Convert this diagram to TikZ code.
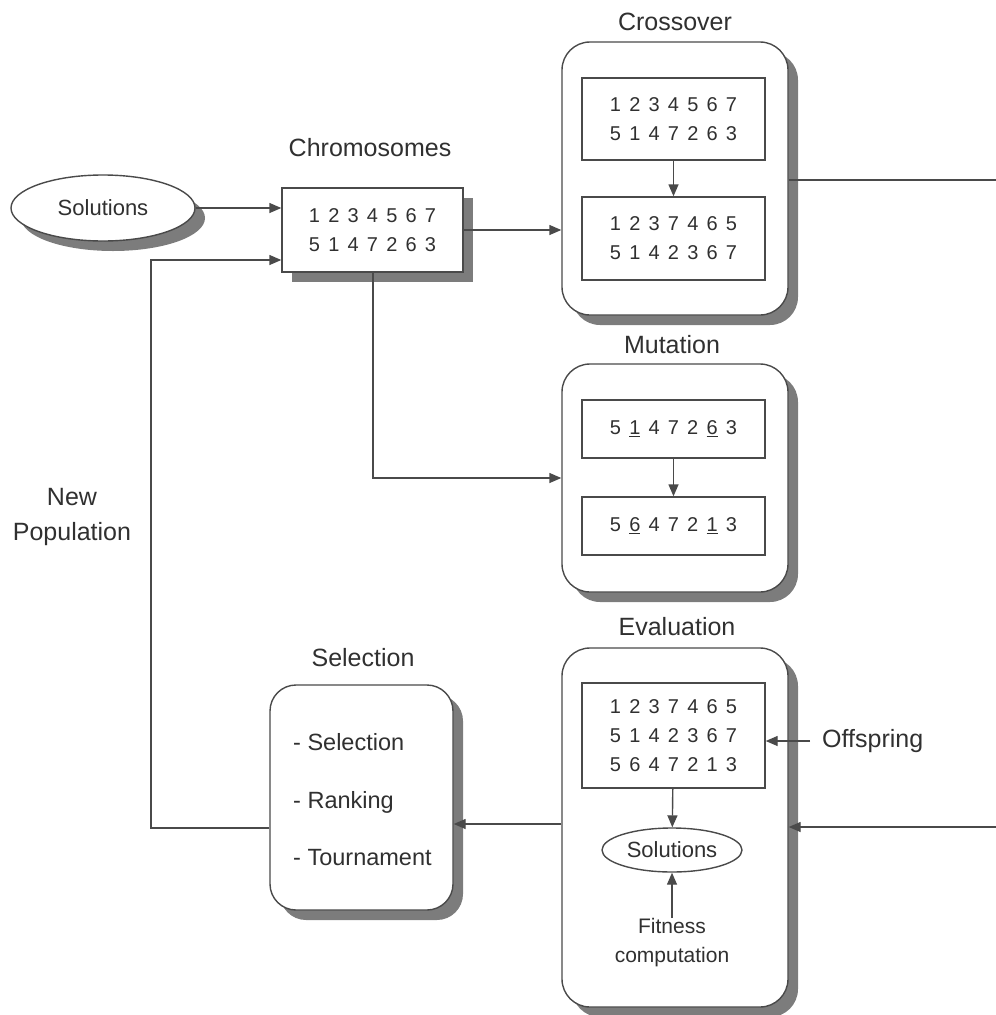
\documentclass[tikz,border=0pt]{standalone}
\usepackage{fontspec}
\setmainfont{Liberation Sans}
\usetikzlibrary{arrows.meta,shapes.geometric,shadows,calc}
\definecolor{linegray}{HTML}{4A4A4A}
\definecolor{textgray}{HTML}{303030}
\definecolor{shadowgray}{HTML}{7C7C7C}
% one row of seven digits on an even pitch
\newcommand\drow[7]{#1\kern8.2pt#2\kern8.2pt#3\kern8.2pt#4\kern8.2pt#5\kern8.2pt#6\kern8.2pt#7}
\newcommand\dfont{\fontsize{20}{29}\selectfont}
\begin{document}
\begin{tikzpicture}[x=1pt,y=-1pt,
  every node/.style={text=textgray, inner sep=0pt},
  lbl/.style={font=\fontsize{25}{29}\selectfont},
  digits/.style={font=\dfont, align=center},
  shd/.style={drop shadow={shadow xshift=10pt, shadow yshift=-10pt, fill=shadowgray, opacity=1}},
  outerbox/.style={shd, draw=linegray, line width=1.4pt, fill=white, rounded corners=28pt},
  innerbox/.style={draw=linegray, line width=1.4pt, fill=white},
  oval/.style={ellipse, draw=linegray, line width=1.4pt, fill=white, font=\fontsize{22}{26}\selectfont},
  conn/.style={draw=linegray, line width=1.4pt},
  arr/.style={conn, -{Triangle[length=12pt,width=10pt]}}
]
\useasboundingbox (0,0) rectangle (996,1015);

% Initial solutions and the chromosome pool
\node[oval, shd, minimum width=184pt, minimum height=66pt] (sol1) at (103,208) {Solutions};
\node[innerbox, shd, minimum width=181pt, minimum height=84pt, digits] (chrom) at (372.5,230)
  {\drow1234567\\\drow5147263};
\node[lbl] (chromlbl) at (370,148) {Chromosomes};

% Crossover
\node[outerbox, minimum width=226pt, minimum height=273pt] (cross) at (675,178.5) {};
\node[lbl] (crosslbl) at (675,22) {Crossover};
\node[innerbox, minimum width=183pt, minimum height=82pt, digits] (cx1) at (673.5,119)
  {\drow1234567\\\drow5147263};
\node[innerbox, minimum width=183pt, minimum height=83pt, digits] (cx2) at (673.5,238.5)
  {\drow1237465\\\drow5142367};

% Mutation
\node[outerbox, minimum width=226pt, minimum height=228pt] (mut) at (675,478) {};
\node[lbl] (mutlbl) at (672,345) {Mutation};
\node[innerbox, minimum width=183pt, minimum height=58pt, digits] (mu1) at (673.5,429)
  {\drow5{\underline{1}}472{\underline{6}}3};
\node[innerbox, minimum width=183pt, minimum height=58pt, digits] (mu2) at (673.5,526)
  {\drow5{\underline{6}}472{\underline{1}}3};

% Evaluation
\node[outerbox, minimum width=226pt, minimum height=359pt] (eval) at (675,827.5) {};
\node[lbl] (evallbl) at (677,627) {Evaluation};
\node[innerbox, minimum width=183pt, minimum height=105pt, digits] (ev1) at (673.5,735.5)
  {\drow1237465\\\drow5142367\\\drow5647213};
\node[oval, minimum width=140pt, minimum height=44pt] (sol2) at (672,850) {Solutions};
\node[align=center, font=\fontsize{21}{29}\selectfont, anchor=north] (fit) at (672,918)
  {Fitness\\computation};
\node[lbl, anchor=west] (offs) at (822,741) {Offspring};

% Selection
\node[outerbox, rounded corners=26pt, minimum width=183pt, minimum height=225pt] (sel) at (361.5,797.5) {};
\node[lbl] (sellbl) at (363,658) {Selection};
\node[anchor=west, align=left, font=\fontsize{23.5}{57.5}\selectfont] (selitems) at (293,800)
  {- Selection\\- Ranking\\- Tournament};

% Loop label
\node[align=center, font=\fontsize{25}{35}\selectfont] (newpop) at (72,517) {New\\Population};

% Routing points
\coordinate (loopB) at (151,828);
\coordinate (loopT) at (151,260);
\coordinate (mk) at (373,478);
\coordinate (edgeT) at (996,180);
\coordinate (edgeB) at (996,827);
\coordinate (selrow) at (0,824);

% Connectors
\draw[arr] (sol1) -- (sol1 -| chrom.west);
\draw[arr] (sel.west |- loopB) -- (loopB) -- (loopT) -- (loopT -| chrom.west);
\draw[arr] (chrom.east) -- (chrom.east -| cross.west);
\draw[arr] (chrom.south -| mk) -- (mk) -- (mut.west);
\draw[arr] (cx1) -- (cx2);
\draw[arr] (mu1) -- (mu2);
\draw[conn] (cross.east |- edgeT) -- (edgeT);
\draw[arr] (edgeB) -- (edgeB -| eval.east);
\draw[arr] ([xshift=-12pt]offs.west) -- (offs.west -| ev1.east);
\draw[arr] (ev1) -- (sol2);
\draw[arr] (fit) -- (sol2);
\draw[arr] (eval.west |- selrow) -- (sel.east |- selrow);
\end{tikzpicture}
\end{document}
